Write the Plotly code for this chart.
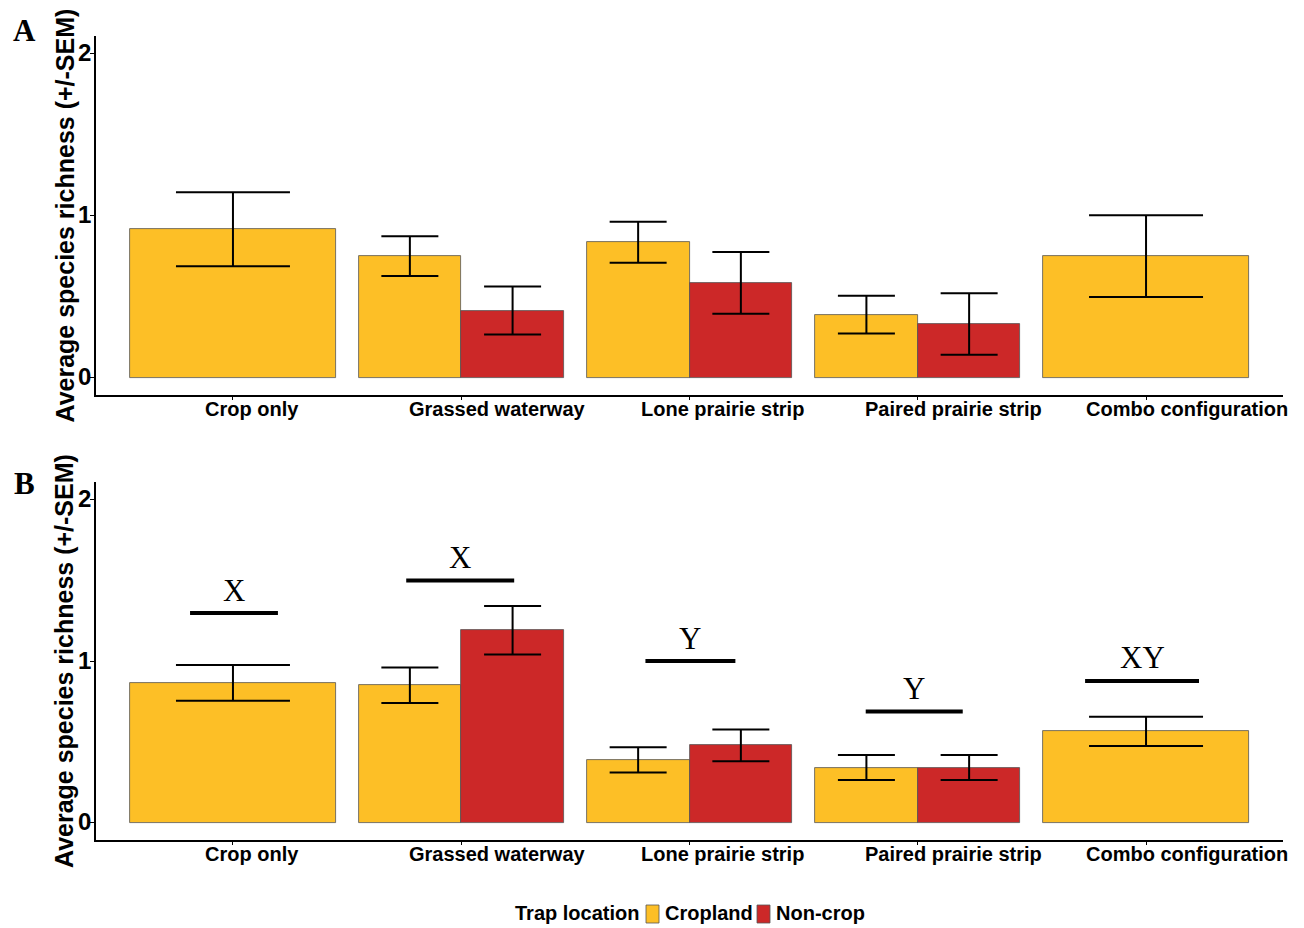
import plotly.graph_objects as go

# Study configurations along the x axis
sites = ["Crop only", "Grassed waterway", "Lone prairie strip",
         "Paired prairie strip", "Combo configuration"]

# Panel A: mean species richness and SEM by trap location
a_crop = [0.915, 0.75, 0.835, 0.39, 0.75]
a_crop_sem = [0.228, 0.123, 0.126, 0.116, 0.252]
a_non = [None, 0.415, 0.585, 0.332, None]
a_non_sem = [None, 0.148, 0.19, 0.189, None]

# Panel B: mean species richness and SEM by trap location
b_crop = [0.865, 0.85, 0.39, 0.342, 0.566]
b_crop_sem = [0.11, 0.11, 0.078, 0.077, 0.09]
b_non = [None, 1.19, 0.479, 0.342, None]
b_non_sem = [None, 0.15, 0.098, 0.077, None]

# Panel B significance groupings (letter, bar height, segment extent around site)
sig_letters = ["X", "X", "Y", "Y", "XY"]
sig_y = [1.296, 1.497, 1.0, 0.689, 0.877]
sig_from = [-0.188, -0.241, -0.193, -0.228, -0.267]
sig_to = [0.197, 0.232, 0.201, 0.197, 0.232]

y_ticks = [0, 1, 2]
legend_title = "Trap location"
legend_names = ["Cropland", "Non-crop"]

YELLOW = "#FDBF26"
RED = "#CC2828"
EDGE = "#555555"
SANS = "Liberation Sans, Arial, sans-serif"
SERIF = "Liberation Serif, Times New Roman, serif"

W, H = 1304, 928
ML, MR, MT, MB = 96, 21, 36, 88
PW, PH = W - ML - MR, H - MT - MB


def px_x(px):
    return (px - ML) / PW


def px_y(py):
    return (H - MB - py) / PH


DODGE = 0.9  # total width of a site's bar group
fig = go.Figure()


def add_panel(xa, ya, crop, crop_sem, non, non_sem):
    n = len(crop)
    crop_x, crop_w, non_x = [], [], []
    for i in range(n):
        if non[i] is None:
            crop_x.append(i)
            crop_w.append(DODGE)
            non_x.append(None)
        else:
            crop_x.append(i - DODGE / 4)
            crop_w.append(DODGE / 2)
            non_x.append(i + DODGE / 4)
    fig.add_trace(go.Bar(
        x=crop_x, y=crop, width=crop_w, name=legend_names[0],
        marker=dict(color=YELLOW, line=dict(color=EDGE, width=0.8)),
        xaxis=xa, yaxis=ya, hoverinfo="skip"))
    nx = [x for x in non_x if x is not None]
    ny = [v for v in non if v is not None]
    fig.add_trace(go.Bar(
        x=nx, y=ny, width=[DODGE / 2] * len(nx), name=legend_names[1],
        marker=dict(color=RED, line=dict(color=EDGE, width=0.8)),
        xaxis=xa, yaxis=ya, hoverinfo="skip"))

    # error bars: full-width sites get wider caps than dodged pairs
    single = {"x": [], "y": [], "e": []}
    pair = {"x": [], "y": [], "e": []}
    for i in range(n):
        grp = single if non[i] is None else pair
        grp["x"].append(crop_x[i]); grp["y"].append(crop[i]); grp["e"].append(crop_sem[i])
        if non[i] is not None:
            pair["x"].append(non_x[i]); pair["y"].append(non[i]); pair["e"].append(non_sem[i])
    for grp, cap in ((single, 57), (pair, 28.5)):
        fig.add_trace(go.Scatter(
            x=grp["x"], y=grp["y"], mode="markers",
            marker=dict(size=1, color="rgba(0,0,0,0)"),
            error_y=dict(type="data", array=grp["e"], color="black",
                         thickness=2, width=cap),
            hoverinfo="skip", xaxis=xa, yaxis=ya))


add_panel("x", "y", a_crop, a_crop_sem, a_non, a_non_sem)
add_panel("x2", "y2", b_crop, b_crop_sem, b_non, b_non_sem)

# significance segments and letters on panel B
for i, (lab, yv, x0, x1) in enumerate(zip(sig_letters, sig_y, sig_from, sig_to)):
    fig.add_shape(type="line", xref="x2", yref="y2", x0=i + x0, x1=i + x1,
                  y0=yv, y1=yv, line=dict(color="black", width=4))
    fig.add_annotation(x=i + (x0 + x1) / 2, y=yv, xref="x2", yref="y2",
                       text=lab, showarrow=False, yshift=23, yanchor="middle",
                       font=dict(family=SERIF, size=31, color="black"))

# category labels under each x axis (right-leaning justification)
label_shift = [19, 36, 33, 36, 41]
for xa, yd in (("x", "y domain"), ("x2", "y2 domain")):
    for i, s in enumerate(sites):
        fig.add_annotation(x=i, y=0, xref=xa, yref=yd, text="<b>%s</b>" % s,
                           showarrow=False, xanchor="center", yanchor="top",
                           xshift=label_shift[i], yshift=-1,
                           font=dict(family=SANS, size=20, color="black"))

# y tick labels, y-axis titles and panel letters
for ya, yd, letter, letter_py in (("y", "y domain", "A", 30), ("y2", "y2 domain", "B", 483)):
    for t in y_ticks:
        fig.add_annotation(x=0, y=t, xref="paper", yref=ya, text="<b>%d</b>" % t,
                           showarrow=False, xanchor="right", yanchor="middle",
                           xshift=-3, yshift=1,
                           font=dict(family=SANS, size=24, color="black"))
    fig.add_annotation(x=px_x(64), y=0.5, xref="paper", yref=yd,
                       text="<b>Average species richness (+/-SEM)</b>",
                       textangle=-90, showarrow=False, xanchor="center",
                       yanchor="middle",
                       font=dict(family=SANS, size=25, color="black"))
    fig.add_annotation(x=px_x(24), y=px_y(letter_py), xref="paper", yref="paper",
                       text="<b>%s</b>" % letter, showarrow=False,
                       xanchor="center", yanchor="middle",
                       font=dict(family=SERIF, size=31, color="black"))

# legend drawn at the bottom centre
fig.add_annotation(x=px_x(641), y=px_y(913), xref="paper", yref="paper",
                   text="<b>%s</b>" % legend_title, showarrow=False,
                   xanchor="right", yanchor="middle",
                   font=dict(family=SANS, size=20, color="black"))
for name, color, sx in ((legend_names[0], YELLOW, 646), (legend_names[1], RED, 757)):
    fig.add_shape(type="rect", xref="paper", yref="paper",
                  x0=px_x(sx), x1=px_x(sx + 13), y0=px_y(905), y1=px_y(923),
                  fillcolor=color, line=dict(color=EDGE, width=0.8))
    fig.add_annotation(x=px_x(sx + 17), y=px_y(913), xref="paper", yref="paper",
                       text="<b>%s</b>" % name, showarrow=False,
                       xanchor="left", yanchor="middle",
                       font=dict(family=SANS, size=20, color="black"))

xcommon = dict(range=[-0.6, 4.6], showgrid=False, zeroline=False, showline=True,
               linecolor="black", linewidth=2, ticks="outside", ticklen=3,
               tickcolor="black", tickvals=list(range(len(sites))),
               showticklabels=False, fixedrange=True)
ycommon = dict(range=[-0.105, 2.105], showgrid=False, zeroline=False, showline=True,
               linecolor="black", linewidth=2, ticks="outside", ticklen=4,
               tickcolor="black", tickvals=y_ticks, showticklabels=False,
               fixedrange=True)

fig.update_layout(
    width=W, height=H,
    margin=dict(l=ML, r=MR, t=MT, b=MB, autoexpand=False),
    paper_bgcolor="white", plot_bgcolor="white",
    barmode="overlay", bargap=0,
    xaxis=dict(domain=[0, 1], anchor="y", **xcommon),
    yaxis=dict(domain=[px_y(395), 1], anchor="x", **ycommon),
    xaxis2=dict(domain=[0, 1], anchor="y2", **xcommon),
    yaxis2=dict(domain=[0, px_y(482)], anchor="x2", **ycommon),
    showlegend=False,
)

fig.write_html("out.html")
